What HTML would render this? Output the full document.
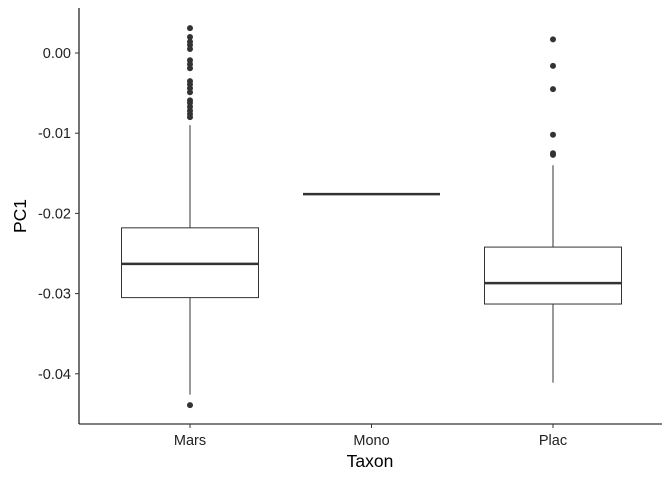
<!DOCTYPE html>
<html><head><meta charset="utf-8"><style>
body{margin:0;background:#fff}
svg{font-family:"Liberation Sans",sans-serif}
</style></head><body>
<svg id="c" width="672" height="480"></svg>
<script>
const categories=["Mars","Mono","Plac"];
const q1=[-0.0305,-0.0176,-0.0313];
const medians=[-0.0263,-0.0176,-0.0287];
const q3=[-0.0218,-0.0176,-0.0242];
const whiskerLow=[-0.0426,-0.0176,-0.0411];
const whiskerHigh=[-0.0090,-0.0176,-0.0140];
const outliersMars=[0.0031,0.0020,0.0014,0.0010,0.0005,-0.0009,-0.0014,-0.0019,-0.0035,-0.0039,-0.0044,-0.0049,-0.0059,-0.0062,-0.0067,-0.0072,-0.0076,-0.0080,-0.0439];
const outliersMono=[];
const outliersPlac=[0.0017,-0.0016,-0.0045,-0.0102,-0.0125,-0.0127];
const yTicks=[0,-0.01,-0.02,-0.03,-0.04];
const yTickLabels=["0.00","-0.01","-0.02","-0.03","-0.04"];

const NS="http://www.w3.org/2000/svg";
const svg=document.getElementById('c');
function y(v){return 53-v*8020;}
function x(i){return 190+i*181.5;}
const halfW=68.5;
function mk(t,a,parent){const e=document.createElementNS(NS,t);for(const k in a)e.setAttribute(k,a[k]);(parent||svg).appendChild(e);return e;}

let ax=mk('line',{x1:79,y1:8,x2:79,y2:424,stroke:'#000','stroke-width':1.1});


ax=mk('line',{x1:79,y1:424,x2:662,y2:424,stroke:'#000','stroke-width':1.1});



yTicks.forEach((v,i)=>{
  const t=mk('line',{x1:75,x2:79,y1:y(v),y2:y(v),stroke:'#333'});
  
  
  const l=mk('text',{x:71,y:y(v)+5,'text-anchor':'end','font-size':14.5,fill:'#222'});
  l.textContent=yTickLabels[i];
  
  
});
categories.forEach((c,i)=>{
  const t=mk('line',{x1:x(i),x2:x(i),y1:424,y2:428,stroke:'#333'});
  
  
  const l=mk('text',{x:x(i),y:445,'text-anchor':'middle','font-size':14.5,fill:'#222'});
  l.textContent=c;
  
  
});
let tt=mk('text',{x:370,y:467,'text-anchor':'middle','font-size':17.5,fill:'#000'});
tt.textContent='Taxon';


tt=mk('text',{x:0,y:0,'text-anchor':'middle','font-size':17.5,fill:'#000',transform:'translate(26,216) rotate(-90)'});
tt.textContent='PC1';



const outs=[outliersMars,outliersMono,outliersPlac];
categories.forEach((c,i)=>{
  const g=mk('g',{});
  
  
  const cx=x(i);
  mk('line',{x1:cx,x2:cx,y1:y(whiskerHigh[i]),y2:y(q3[i]),stroke:'#333'},g);
  mk('line',{x1:cx,x2:cx,y1:y(q1[i]),y2:y(whiskerLow[i]),stroke:'#333'},g);
  mk('rect',{x:cx-halfW,y:y(q3[i]),width:2*halfW,height:Math.max(0,y(q1[i])-y(q3[i])),fill:'#fff',stroke:'#333'},g);
  mk('line',{x1:cx-halfW,x2:cx+halfW,y1:y(medians[i]),y2:y(medians[i]),stroke:'#333','stroke-width':2.5},g);
  outs[i].forEach(v=>{
    const p=mk('circle',{cx:cx,cy:y(v),r:3,fill:'#333'},g);
    
    
  });
});
</script>
</body></html>
